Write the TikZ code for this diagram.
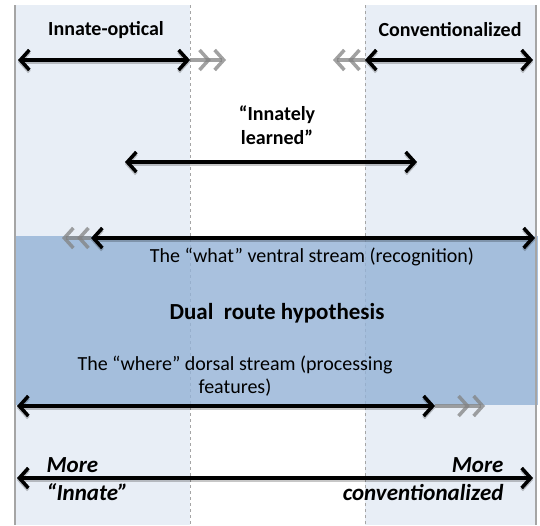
\documentclass[tikz,border=0pt]{standalone}
\usepackage{fontspec}
\setmainfont{Carlito}
\usetikzlibrary{arrows.meta}
\definecolor{panel}{RGB}{232,238,246}
\definecolor{dualblue}{RGB}{148,178,214}
\definecolor{edgegray}{RGB}{165,165,165}
\definecolor{ghost}{RGB}{130,130,130}
\begin{document}
\begin{tikzpicture}[x=1pt,y=-1pt,
  barb/.tip={Straight Barb[length=9pt,width=20pt,line width=3.5pt]},
  bar/.style={line width=3.5pt, black, barb-barb,
    preaction={draw=black, opacity=0.22, line width=4.5pt, transform canvas={yshift=-2pt}}},
  ghostbar/.style={line width=3.5pt, ghost, opacity=0.75, -{barb[sep=2pt] barb}},
  lbl/.style={font=\bfseries\fontsize{20}{24}\selectfont, align=center},
  txt/.style={font=\fontsize{20}{23}\selectfont, align=center},
  side/.style={font=\bfseries\itshape\fontsize{23}{27}\selectfont},
  divider/.style={draw=edgegray, dashed, line width=0.6pt},
  edge/.style={draw=edgegray, line width=2.5pt}]
\useasboundingbox (0,0) rectangle (540,525);
\fill[white] (0,0) rectangle (540,525);
% panels
\fill[panel] (15,5) rectangle (190,525);
\fill[panel] (365,5) rectangle (536,525);
\draw[divider] (190,5) -- (190,525);
\draw[divider] (365,5) -- (365,525);
% dual route block
\fill[dualblue, opacity=0.8] (15,236) rectangle (538,405);
\draw[edge] (15,5) -- (15,525);
\draw[edge] (536,5) -- (536,525);
% coordinates
\coordinate (ioL) at (18,60);
\coordinate (ioR) at (190,60);
\coordinate (ioG) at (226,60);
\coordinate (cvL) at (365,60);
\coordinate (cvR) at (533,60);
\coordinate (cvG) at (333,60);
\coordinate (ilL) at (125,162);
\coordinate (ilR) at (417,162);
\coordinate (whL) at (91,238);
\coordinate (whR) at (535,238);
\coordinate (whG) at (62,238);
\coordinate (wrL) at (17,406);
\coordinate (wrR) at (435,406);
\coordinate (wrG) at (485,406);
\coordinate (mL) at (17,478);
\coordinate (mR) at (533,478);
% texts
\node[lbl] (io) at (106,30) {Innate-optical};
\node[lbl] (cv) at (450,30) {Conventionalized};
\node[lbl] (il) at (277,125) {“Innately\\learned”};
\node[txt] (what) at (312,257) {The “what” ventral stream (recognition)};
\node[font=\bfseries\fontsize{23}{27}\selectfont] (dual) at (277,313) {Dual\ \ route hypothesis};
\node[txt] (where) at (235,376) {The “where” dorsal stream (processing\\features)};
\node[side, anchor=west] (mi1) at (43,465) {More};
\node[side, anchor=west] (mi2) at (43,492) {“Innate”};
\node[side, anchor=east] (mc1) at (507,465) {More};
\node[side, anchor=east] (mc2) at (507,492) {conventionalized};
% arrows
\draw[ghostbar] (ioR) -- (ioG);
\draw[bar] (ioL) -- (ioR);
\draw[ghostbar] (cvL) -- (cvG);
\draw[bar] (cvL) -- (cvR);
\draw[bar] (ilL) -- (ilR);
\draw[ghostbar] (whL) -- (whG);
\draw[bar] (whL) -- (whR);
\draw[ghostbar] (wrR) -- (wrG);
\draw[bar] (wrL) -- (wrR);
\draw[bar] (mL) -- (mR);
\end{tikzpicture}
\end{document}
